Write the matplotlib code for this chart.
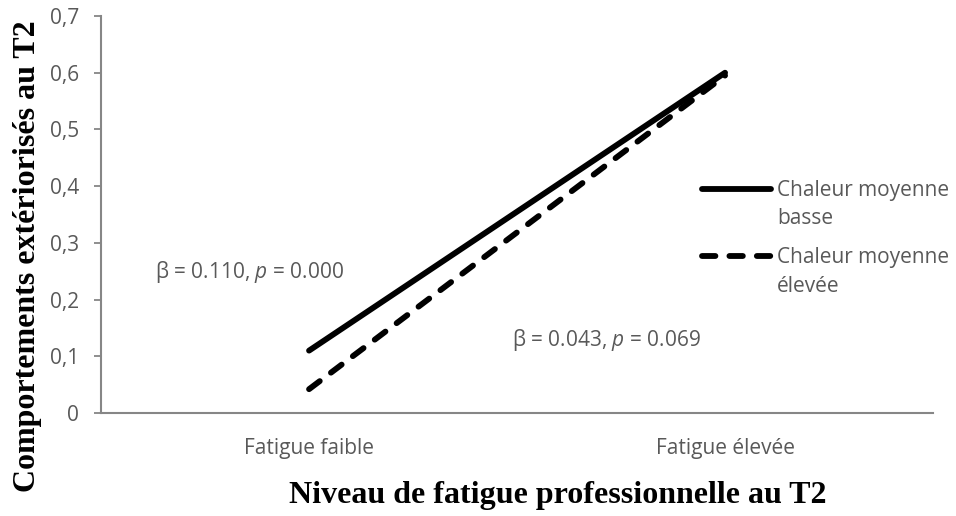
import matplotlib
matplotlib.use("Agg")
import matplotlib.pyplot as plt
from matplotlib.offsetbox import HPacker
from matplotlib.ticker import FixedLocator, FixedFormatter

# data
categories = ["Fatigue faible", "Fatigue élevée"]
chaleur_basse = [0.110, 0.600]
chaleur_elevee = [0.042, 0.595]
series_labels = ["Chaleur moyenne\nbasse", "Chaleur moyenne\nélevée"]
y_ticks = [0, 0.1, 0.2, 0.3, 0.4, 0.5, 0.6, 0.7]
y_ticklabels = ["0", "0,1", "0,2", "0,3", "0,4", "0,5", "0,6", "0,7"]
annot_basse = "β = 0.110, $\\it{p}$ = 0.000"
annot_elevee = "β = 0.043, $\\it{p}$ = 0.069"

plt.rcParams["font.family"] = ["Open Sans", "DejaVu Sans"]
plt.rcParams["mathtext.fontset"] = "custom"
plt.rcParams["mathtext.it"] = "Open Sans:italic"
plt.rcParams["mathtext.rm"] = "Open Sans"

grey = "#868686"
text_grey = "#595959"

fig = plt.figure(figsize=(9.56, 5.16), dpi=100)
ax = fig.add_axes([0.1057, 0.1996, 0.8703, 0.7694])

x = list(range(len(categories)))
ax.plot(x, chaleur_basse, color="black", lw=4.2, solid_capstyle="round",
        label=series_labels[0])
ax.plot(x, chaleur_elevee, color="black", lw=4.2, dashes=(2.3, 2.4),
        dash_capstyle="round", label=series_labels[1])

ax.set_xlim(-0.5, 1.5)
ax.set_ylim(0, 0.7)
ax.set_xticks(x)
ax.set_xticklabels(categories)
ax.yaxis.set_major_locator(FixedLocator(y_ticks))
ax.yaxis.set_major_formatter(FixedFormatter(y_ticklabels))
ax.tick_params(axis="x", length=0, pad=18, labelsize=15, labelcolor=text_grey)
ax.tick_params(axis="y", length=5, width=1.3, color=grey, pad=11,
               labelsize=15, labelcolor=text_grey)

for side in ["top", "right"]:
    ax.spines[side].set_visible(False)
for side in ["left", "bottom"]:
    ax.spines[side].set_color(grey)
    ax.spines[side].set_linewidth(1.5)

ax.text(-0.37, 0.249, annot_basse, fontsize=15, color=text_grey, va="center")
ax.text(0.489, 0.129, annot_elevee, fontsize=15, color=text_grey, va="center")

ax.set_xlabel("Niveau de fatigue professionnelle au T2", fontsize=23,
              fontweight="bold", family="Liberation Serif", va="center")
ax.xaxis.set_label_coords(0.549, -0.209)
ax.set_ylabel("Comportements extériorisés au T2", fontsize=23,
              fontweight="bold", family="Liberation Serif", va="center")
ax.yaxis.set_label_coords(-0.088, 0.395)

leg = ax.legend(loc="upper left", bbox_to_anchor=(0.722, 0.587), frameon=False,
                handlelength=3.3, handleheight=1.2, fontsize=15,
                labelspacing=0.88, handletextpad=0.3, borderaxespad=0,
                borderpad=0)
# line sample level with the first line of each label, as in Excel
for box in leg.findobj(HPacker):
    box.align = "top"
for t in leg.get_texts():
    t.set_color(text_grey)
    t.set_linespacing(1.45)

fig.savefig("out.png", dpi=100)
